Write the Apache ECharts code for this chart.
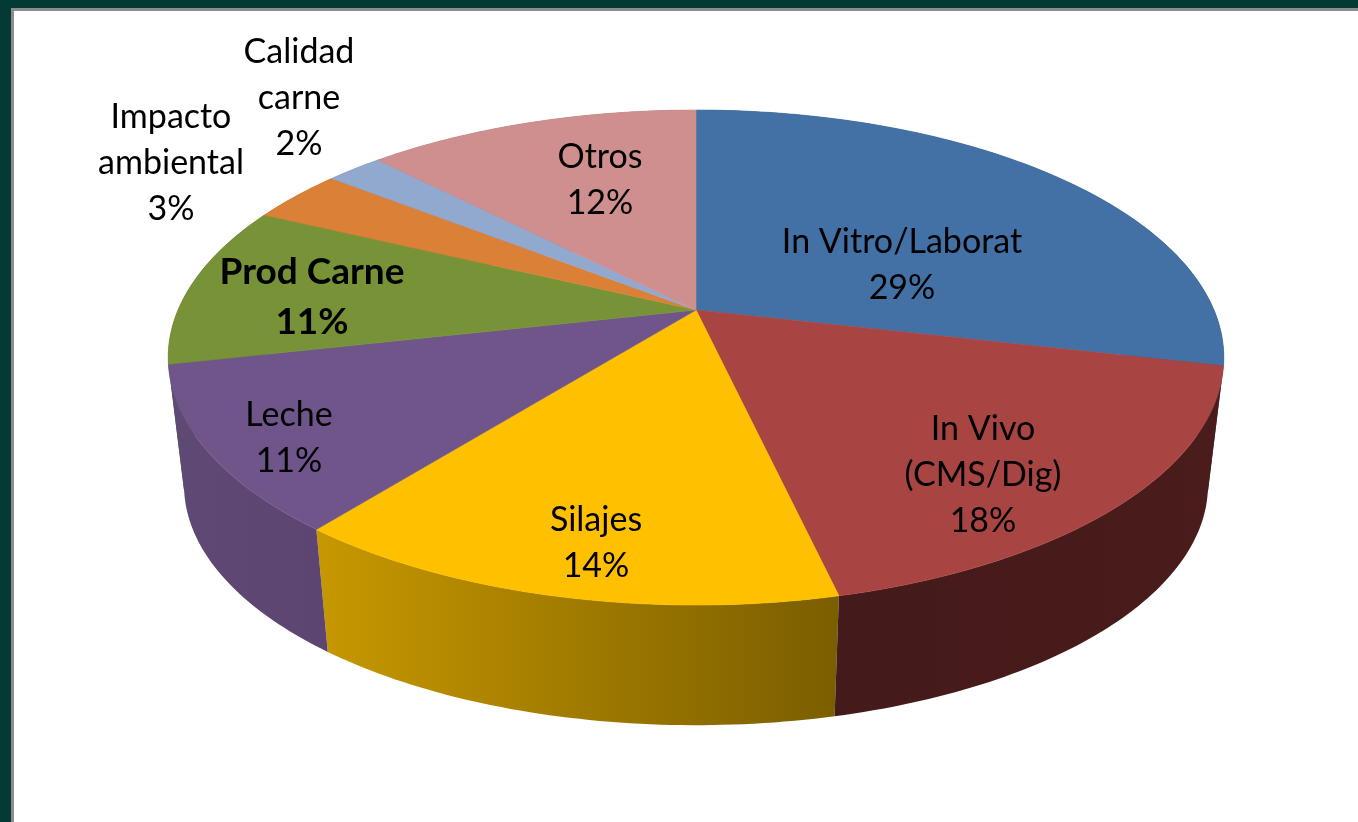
<!DOCTYPE html>
<html><head><meta charset="utf-8">
<style>html,body{margin:0;padding:0;background:#fff}#c{width:1358px;height:822px}</style>
<script src="https://cdn.jsdelivr.net/npm/echarts@6/dist/echarts.min.js"></script>
</head><body><div id="c"></div>
<script>
const categories = ['In Vitro/Laborat','In Vivo\n(CMS/Dig)','Silajes','Leche','Prod Carne','Impacto\nambiental','Calidad\ncarne','Otros'];
const values = [28.6,17.8,14.3,10.8,10.6,3.49,2.1,12.31];
const percentLabels = ['29%','18%','14%','11%','11%','3%','2%','12%'];
const topColors = ['#4371a6','#a84442','#ffc000','#6f558a','#789337','#da8137','#92a9cf','#cf8f8f'];
const wallLeft = ['#2a4668','#451a1a','#c79800','#5f4a75','#4a5b22','#8a5122','#5c6b83','#835a5a'];
const wallRight = ['#2a4668','#4a1c1c','#7a5e00','#5c4570','#4a5b22','#8a5122','#5c6b83','#835a5a'];
const labelCenters = [[902,265],[983,475],[596,543],[289,438],[312,297],[171,163],[299,98],[600,180]];
const boldLabel = [false,false,false,false,true,false,false,false];

// projected geometry of the tilted disc
const apexX = 696, apexY = 310, baseY = 439, baseScale = 0.97;
const radiusX = 518, radiusY = 238.4, persp = 0.192;
function rim(angle, cy, s) {
  const x = Math.sin(angle), y = -Math.cos(angle), d = 1 - persp * y;
  return [apexX + s * radiusX * x / d, cy + s * radiusY * y / d];
}
const total = values.reduce((a, b) => a + b, 0);
function renderItem(params, api) {
  const i = params.dataIndex;
  let before = 0;
  for (let k = 0; k < i; k++) before += values[k];
  const a0 = before / total * 2 * Math.PI;
  const a1 = (before + api.value(0)) / total * 2 * Math.PI;
  const steps = Math.max(8, Math.ceil((a1 - a0) * 60));
  const topArc = [], botArc = [];
  for (let k = 0; k <= steps; k++) {
    const a = a0 + (a1 - a0) * k / steps;
    topArc.push(rim(a, apexY, 1));
    botArc.push(rim(a, baseY, baseScale));
  }
  const wallFill = new echarts.graphic.LinearGradient(0, 0, 1, 0, [
    { offset: 0, color: wallLeft[i] }, { offset: 1, color: wallRight[i] }
  ]);
  return {
    type: 'group',
    children: [
      { type: 'polygon', z2: 1 + i % 2,
        shape: { points: topArc.concat(botArc.slice().reverse()) },
        style: { fill: wallFill, stroke: null } },
      { type: 'polygon', z2: 5,
        shape: { points: [[apexX, apexY]].concat(topArc) },
        style: { fill: topColors[i], stroke: topColors[i], lineWidth: 0.6 } },
      { type: 'text', z2: 10, silent: true,
        x: labelCenters[i][0], y: labelCenters[i][1],
        style: {
          text: categories[i] + '\n' + percentLabels[i],
          fill: '#000', align: 'center', verticalAlign: 'middle',
          font: boldLabel[i] ? 'bold 37px Lato' : '34px Lato',
          lineHeight: boldLabel[i] ? 50 : 46
        } }
    ]
  };
}
const chart = echarts.init(document.getElementById('c'), null, { renderer: 'canvas' });
chart.setOption({
  animation: false,
  backgroundColor: '#fff',
  graphic: { elements: [
    { type: 'rect', z: -1, silent: true, shape: { x: 0, y: 0, width: 1358, height: 8 }, style: { fill: '#033a33' } },
    { type: 'rect', z: -1, silent: true, shape: { x: 0, y: 0, width: 11, height: 822 }, style: { fill: '#033a33' } },
    { type: 'rect', z: -1, silent: true, shape: { x: 11, y: 8, width: 1347, height: 3 }, style: { fill: '#8c8c8c' } },
    { type: 'rect', z: -1, silent: true, shape: { x: 11, y: 8, width: 3, height: 814 }, style: { fill: '#8c8c8c' } }
  ] },
  series: [{
    type: 'custom',
    coordinateSystem: 'none',
    renderItem,
    data: values.map((v, i) => ({ name: categories[i], value: [v] }))
  }]
});
</script></body></html>
